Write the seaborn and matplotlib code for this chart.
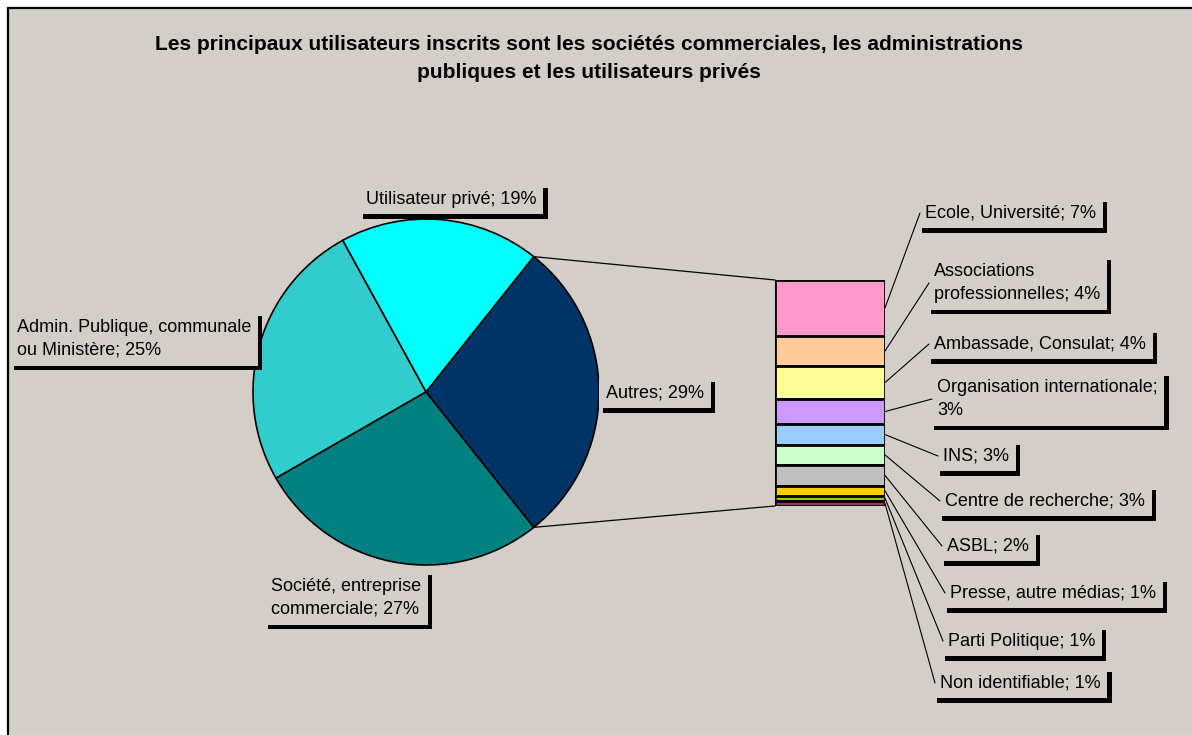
import math
import matplotlib
matplotlib.use("Agg")
import matplotlib.pyplot as plt
import matplotlib.patheffects as pe
from matplotlib.patches import Rectangle, ConnectionPatch
from matplotlib.lines import Line2D
import seaborn as sns

# ---------------- data ----------------
main_labels = ["Autres", "Utilisateur privé",
               "Admin. Publique, communale\nou Ministère",
               "Société, entreprise\ncommerciale"]
main_values = [28.6, 18.7, 25.3, 27.4]
main_pct = [29, 19, 25, 27]
main_colors = ["#003366", "#00FFFF", "#33CCCC", "#008080"]

sub_labels = ["Ecole, Université", "Associations\nprofessionnelles",
              "Ambassade, Consulat", "Organisation internationale;\n",
              "INS", "Centre de recherche", "ASBL",
              "Presse, autre médias", "Parti Politique", "Non identifiable"]
sub_values = [7.05, 3.88, 4.10, 3.24, 2.58, 2.57, 2.62, 1.26, 0.63, 0.67]
sub_pct = [7, 4, 4, 3, 3, 3, 2, 1, 1, 1]
sub_colors = ["#FF99CC", "#FFCC99", "#FFFF99", "#CC99FF", "#99CCFF",
              "#CCFFCC", "#C0C0C0", "#FFCC00", "#99CC00", "#993366"]

title = ("Les principaux utilisateurs inscrits sont les sociétés commerciales, les administrations\n"
         "publiques et les utilisateurs privés")

# ---------------- layout (pixel coordinates, origin top-left) ----------------
W, H = 1192, 735
BG = "#D4CEC8"
pie_center_px = (426, 392)
pie_radius_px = 173
bar_box_px = (775, 280, 885, 506)  # left, top, right, bottom
main_text_pos = [(606, 393), (366, 199), (17, 339), (271, 598)]
sub_text_pos = [(925, 213), (934, 283), (934, 344), (937, 399), (943, 456),
                (945, 501), (947, 546), (950, 593), (948, 641), (940, 683)]

sns.set_theme(style="white")
plt.rcParams["font.family"] = ["Liberation Sans", "DejaVu Sans"]

fig = plt.figure(figsize=(W / 100, H / 100), dpi=100, facecolor="white")
ax = fig.add_axes([0, 0, 1, 1])
ax.set_axis_off()

def Y(py):
    return H - py

# chart area background and border
ax.add_patch(Rectangle((8, 0), W - 8, H - 8, facecolor=BG, edgecolor="none", zorder=0))
ax.add_line(Line2D([8, W], [Y(7.5), Y(7.5)], color="black", lw=1.6, zorder=1))
ax.add_line(Line2D([8, 8], [0, Y(7.5)], color="black", lw=1.6, zorder=1))

# pie
start = -main_values[0] / sum(main_values) * 360 / 2
wedges, _ = ax.pie(main_values, colors=main_colors, startangle=start,
                   center=(pie_center_px[0], Y(pie_center_px[1])), radius=pie_radius_px,
                   wedgeprops=dict(edgecolor="black", linewidth=1.2), frame=True)
ax.set_xlim(0, W)
ax.set_ylim(0, H)
ax.set_aspect("equal", adjustable="box")
ax.set_axis_off()

fs = 13
shadow = [pe.withSimplePatchShadow(offset=(3, -3), shadow_rgbFace="black", alpha=1.0)]

def label(x, y, s):
    t = ax.text(x, Y(y), s, ha="left", va="center", fontsize=fs, color="black",
                linespacing=1.45, zorder=5,
                bbox=dict(boxstyle="square,pad=0.38", facecolor=BG, edgecolor="none"))
    t.get_bbox_patch().set_path_effects(shadow)
    return t

for (x, y), lab, p in zip(main_text_pos, main_labels, main_pct):
    label(x, y, f"{lab}; {p}%")

# bar of pie
l, t, r, b = bar_box_px
ax2 = fig.add_axes([l / W, (H - b) / H, (r - l) / W, (b - t) / H])
total = sum(sub_values)
top = total
mids = []
for v, c in zip(sub_values, sub_colors):
    ax2.bar(0, v, bottom=top - v, width=1.0, color=c, edgecolor="black", linewidth=2.0)
    mids.append(top - v / 2)
    top -= v
ax2.set_xlim(-0.5, 0.5)
ax2.set_ylim(0, total)
ax2.set_axis_off()

# connector lines pie -> bar
w0 = wedges[0]
cx, cy = w0.center
for theta, ybar in [(w0.theta2, total), (w0.theta1, 0)]:
    xa = cx + w0.r * math.cos(math.radians(theta))
    ya = cy + w0.r * math.sin(math.radians(theta))
    cp = ConnectionPatch((xa, ya), (-0.5, ybar), coordsA=ax.transData, coordsB=ax2.transData,
                         color="black", lw=0.9, zorder=3)
    fig.add_artist(cp)

# sub labels with leader lines
for (x, y), lab, p, m in zip(sub_text_pos, sub_labels, sub_pct, mids):
    if lab.endswith("\n"):
        s = f"{lab}{p}%"
    else:
        s = f"{lab}; {p}%"
    label(x, y, s)
    cp = ConnectionPatch((0.5, m), (x - 5, Y(y)), coordsA=ax2.transData, coordsB=ax.transData,
                         color="black", lw=0.8, zorder=2)
    fig.add_artist(cp)

ax.text(589, Y(58), title, ha="center", va="center", fontsize=15, fontweight="bold",
        linespacing=1.6, color="black")

fig.savefig("out.png", dpi=100, facecolor="white")
